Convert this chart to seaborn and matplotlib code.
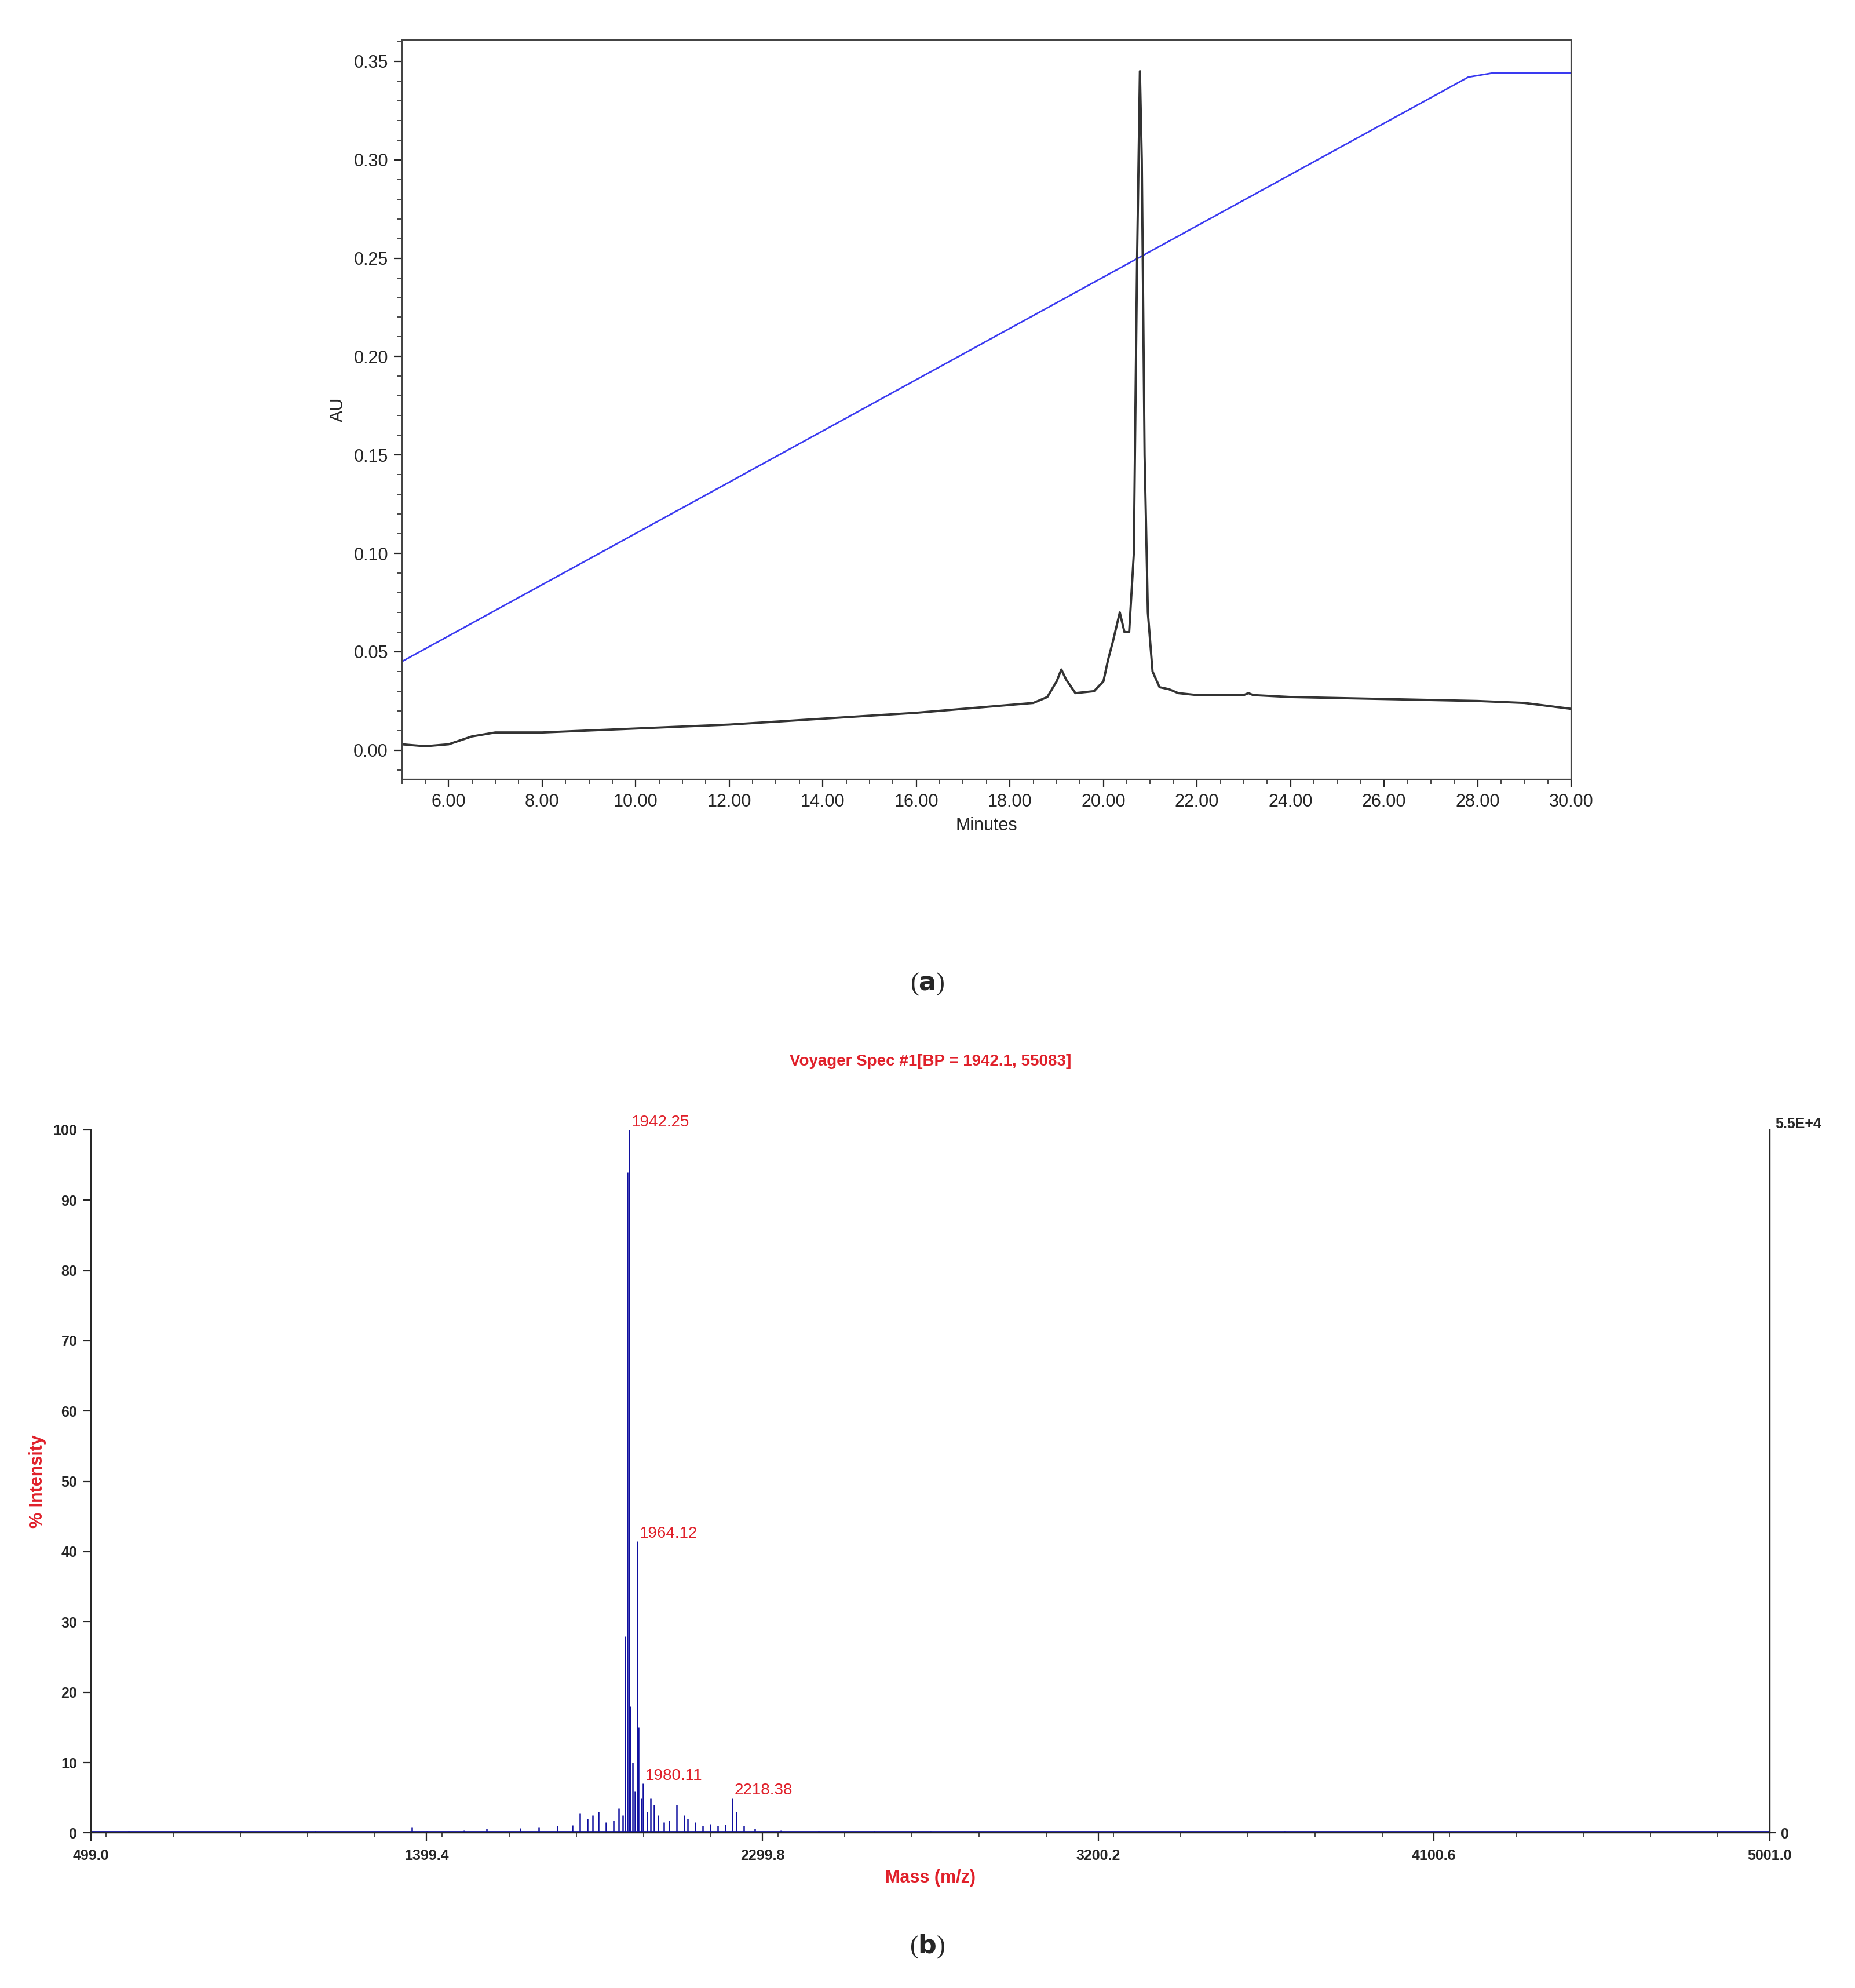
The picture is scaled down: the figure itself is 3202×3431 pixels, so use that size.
import matplotlib
matplotlib.use('Agg')
import matplotlib.pyplot as plt
import numpy as np
import pandas as pd
import seaborn as sns
from matplotlib.ticker import MultipleLocator

sns.set_style('ticks')
plt.rcParams['font.family'] = ['Liberation Sans', 'DejaVu Sans']

# (a) HPLC chromatogram
gradient_min = [5.0, 27.8, 28.3, 30.0]
gradient_au = [0.045, 0.342, 0.344, 0.344]

trace_min = [5.0, 5.5, 6.0, 6.5, 7.0, 8.0, 10.0, 12.0, 14.0, 16.0, 17.5, 18.5, 18.8,
             19.0, 19.1, 19.2, 19.4, 19.8, 20.0, 20.1, 20.2, 20.35, 20.45, 20.55,
             20.65, 20.72, 20.78, 20.82, 20.88, 20.95, 21.05, 21.2, 21.4, 21.6, 22.0,
             23.0, 23.1, 23.2, 24.0, 26.0, 28.0, 29.0, 30.0]
trace_au = [0.003, 0.002, 0.003, 0.007, 0.009, 0.009, 0.011, 0.013, 0.016, 0.019, 0.022,
            0.024, 0.027, 0.035, 0.041, 0.036, 0.029, 0.030, 0.035, 0.046, 0.055, 0.070,
            0.060, 0.060, 0.100, 0.250, 0.345, 0.300, 0.150, 0.070, 0.040, 0.032, 0.031,
            0.029, 0.028, 0.028, 0.029, 0.028, 0.027, 0.026, 0.025, 0.024, 0.021]

# (b) MALDI-TOF spectrum (stick peaks, % intensity)
peak_mz = [600, 750, 900, 1100, 1260, 1360, 1400, 1500, 1560, 1650, 1700, 1750, 1790,
           1810, 1830, 1845, 1860, 1880, 1900, 1915, 1925, 1932, 1938, 1942.25, 1946,
           1952, 1958, 1964.12, 1968, 1975, 1980.11, 1990, 2000, 2010, 2020, 2035, 2050,
           2070, 2090, 2100, 2120, 2140, 2160, 2180, 2200, 2218.38, 2230, 2250, 2280,
           2350, 2450, 2600, 2750, 3000, 3700, 3800, 4100]
peak_int = [0.3, 0.2, 0.3, 0.3, 0.2, 0.8, 0.3, 0.4, 0.6, 0.7, 0.8, 1.0, 1.1,
            2.8, 2.0, 2.5, 3.0, 1.5, 1.8, 3.5, 2.5, 28.0, 94.0, 100.0, 18.0,
            10.0, 6.0, 41.5, 15.0, 5.0, 7.0, 3.0, 5.0, 4.0, 2.5, 1.5, 1.8,
            4.0, 2.5, 2.0, 1.5, 1.0, 1.3, 1.0, 1.2, 5.0, 3.0, 1.0, 0.6,
            0.4, 0.3, 0.3, 0.3, 0.2, 0.3, 0.2, 0.2]
labels_mz = [1942.25, 1964.12, 1980.11, 2218.38]
labels_y = [100.0, 41.5, 7.0, 5.0]
mz_ticks = [499.0, 1399.4, 2299.8, 3200.2, 4100.6, 5001.0]

fig = plt.figure(figsize=(16.01, 17.155), dpi=200)

ax1 = fig.add_axes([0.2166, 0.608, 0.6304, 0.372])
sns.lineplot(x=gradient_min, y=gradient_au, ax=ax1, color='#3a3af0', lw=1.0)
sns.lineplot(x=trace_min, y=trace_au, ax=ax1, color='#333333', lw=1.4)
ax1.set_xlim(5, 30)
ax1.set_ylim(-0.0148, 0.361)
ax1.set_xticks(np.arange(6, 31, 2))
ax1.set_xticklabels([f'{v:.2f}' for v in np.arange(6, 31, 2)])
ax1.set_yticks(np.arange(0, 0.36, 0.05))
ax1.set_yticklabels([f'{v:.2f}' for v in np.arange(0, 0.36, 0.05)])
ax1.xaxis.set_minor_locator(MultipleLocator(0.5))
ax1.yaxis.set_minor_locator(MultipleLocator(0.01))
ax1.tick_params(labelsize=11, length=5)
ax1.tick_params(which='minor', length=3)
ax1.set_xlabel('Minutes', fontsize=11)
ax1.set_ylabel('AU', fontsize=11)
for s in ax1.spines.values():
    s.set_color('#444444')
fig.text(0.5, 0.505, r'($\mathbf{a}$)', ha='center', va='center', fontsize=16,
         family='Liberation Serif')

ax2 = fig.add_axes([0.049, 0.078, 0.905, 0.3537])
df = pd.DataFrame({'mz': peak_mz, 'intensity': peak_int})
ax2.vlines(df['mz'], 0, df['intensity'], color='#1010a0', lw=0.9)
sns.lineplot(x=[499, 5001], y=[0.2, 0.2], ax=ax2, color='#1010a0', lw=1.0)
ax2.set_xlim(499, 5001)
ax2.set_ylim(0, 100)
ax2.set_xticks(mz_ticks)
ax2.set_xticklabels([f'{v:.1f}' for v in mz_ticks])
ax2.set_yticks(range(0, 101, 10))
ax2.xaxis.set_minor_locator(MultipleLocator(180.08))
ax2.tick_params(labelsize=9, length=5)
ax2.tick_params(axis='x', pad=5)
ax2.tick_params(which='minor', length=3)
for lbl in ax2.get_xticklabels() + ax2.get_yticklabels():
    lbl.set_fontweight('bold')
ax2.spines['top'].set_visible(False)
ax2.set_xlabel('Mass (m/z)', fontsize=11, color='#e0202a', fontweight='bold')
ax2.set_ylabel('% Intensity', fontsize=11, color='#e0202a', fontweight='bold')
ax2.set_title('Voyager Spec #1[BP = 1942.1, 55083]', fontsize=10, color='#e0202a',
              fontweight='bold', pad=40)
for mz, y in zip(labels_mz, labels_y):
    ax2.text(mz + 6, y, f'{mz:.2f}', color='#e0202a', fontsize=10, va='bottom')
ax2r = ax2.twinx()
ax2r.set_ylim(0, 100)
ax2r.set_yticks([0])
ax2r.set_yticklabels(['0'], fontweight='bold', fontsize=9)
ax2r.spines['top'].set_visible(False)
fig.text(0.957, 0.4347, '5.5E+4', fontsize=9, fontweight='bold', va='center')
fig.text(0.5, 0.021, r'($\mathbf{b}$)', ha='center', va='center', fontsize=16,
         family='Liberation Serif')

fig.savefig('out.png', dpi=200)
